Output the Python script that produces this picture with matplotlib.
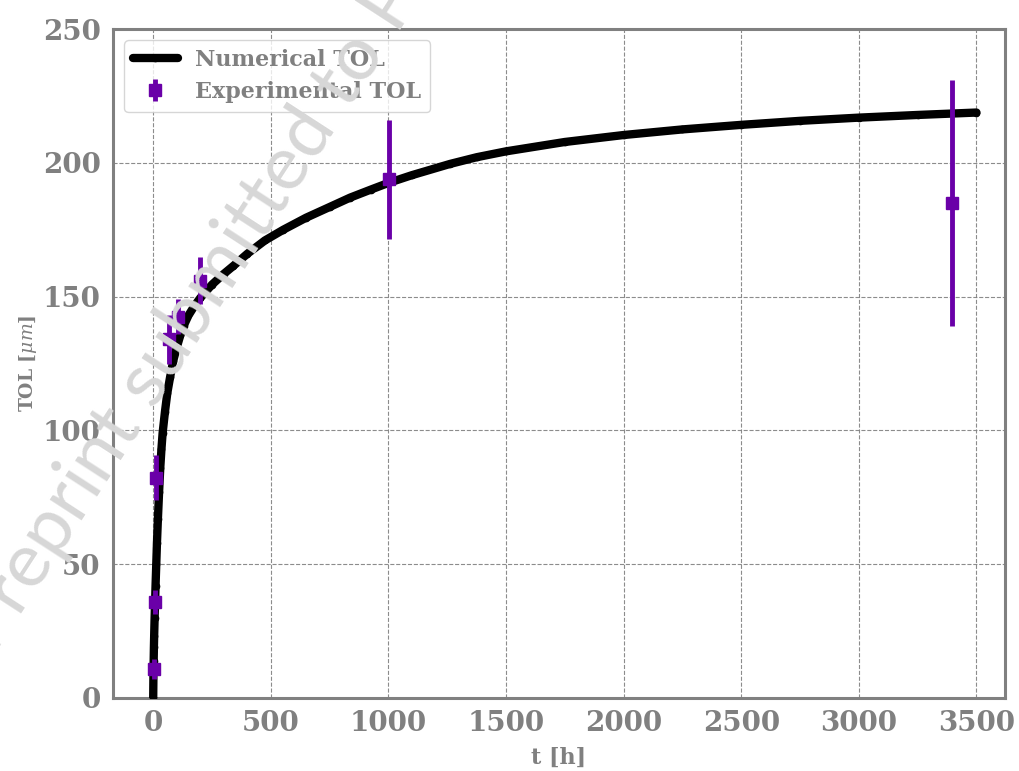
import matplotlib
matplotlib.use("Agg")
import matplotlib.pyplot as plt

plt.rcParams['mathtext.fontset'] = 'dejavuserif'

# Numerical TOL curve
t_num = [0, 1, 2, 3, 4, 6, 8, 10, 13, 16, 20, 25, 30, 35, 40, 50, 60, 72, 85, 100,
         115, 129, 150, 175, 200, 250, 300, 341, 400, 475, 553, 650, 750, 837, 925,
         1000, 1100, 1262, 1375, 1500, 1750, 2000, 2250, 2500, 2750, 3000, 3250, 3500]
tol_num = [0, 9, 14, 19, 23, 30, 36, 42, 50, 58, 67, 77, 86, 93, 99, 107, 114, 120,
           126, 131, 135.5, 139, 143, 146.5, 149.5, 154.5, 158.5, 161.5, 166, 171,
           175, 179.5, 183.5, 187, 190, 192.5, 195.4, 199.6, 202.1, 204.3, 207.8,
           210.4, 212.5, 214.2, 215.7, 216.9, 217.9, 218.8]

# Experimental TOL
t_exp = [4, 8.5, 13, 68, 107, 197, 1004, 3395]
tol_exp = [10.7, 35.8, 82.3, 134, 142.5, 156, 193.8, 185]
tol_err = [3.7, 4.4, 8.4, 9, 6.5, 8.7, 22.4, 46]

xticks = [0, 500, 1000, 1500, 2000, 2500, 3000, 3500]
yticks = [0, 50, 100, 150, 200, 250]

gray = '#808080'
purple = '#6a00a8'

fig = plt.figure(figsize=(10.2, 7.71), dpi=100)
ax = fig.add_axes([0.111, 0.0947, 0.874, 0.8676])
ax.patch.set_alpha(0)

# watermark
fig.text(-0.006, 0.15, 'Preprint submitted to Polymers', fontsize=55, color='#d7d7d7',
         rotation=57, ha='left', va='baseline', family='Lato', fontweight='normal',
         zorder=0, rotation_mode='anchor')

ax.plot(t_num, tol_num, color='black', lw=6, marker='.', ms=9, label='Numerical TOL',
        zorder=3, solid_capstyle='round')
ax.errorbar(t_exp, tol_exp, yerr=tol_err, fmt='s', color=purple, ms=9, elinewidth=3.5,
            capsize=0, label='Experimental TOL', zorder=4)

ax.set_xlim(-170, 3620)
ax.set_ylim(0, 250)
ax.set_xticks(xticks)
ax.set_yticks(yticks)
ax.grid(True, color=gray, ls='--', lw=0.8, alpha=0.9)
ax.set_axisbelow(True)

for s in ax.spines.values():
    s.set_color(gray)
    s.set_linewidth(2.2)
ax.tick_params(length=0, pad=9, labelsize=20, labelcolor=gray)
for lab in ax.get_xticklabels() + ax.get_yticklabels():
    lab.set_family('DejaVu Serif')
    lab.set_fontweight('bold')

ax.set_xlabel('t [h]', fontsize=16, color=gray, family='DejaVu Serif', fontweight='bold', labelpad=7)
ax.set_ylabel(r'TOL [$\mu m$]', fontsize=13.5, color=gray, family='DejaVu Serif', fontweight='bold', labelpad=3)

leg = ax.legend(loc='upper left', prop={'family': 'DejaVu Serif', 'weight': 'bold', 'size': 16},
                frameon=True, fancybox=True, edgecolor='#cccccc', borderaxespad=0.5,
                handlelength=2.0, labelspacing=0.45)
for txt in leg.get_texts():
    txt.set_color(gray)

fig.savefig('out.png', dpi=100)
